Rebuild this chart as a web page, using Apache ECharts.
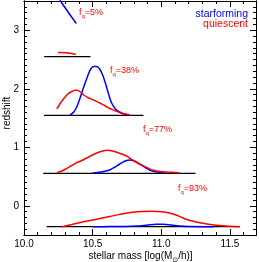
<!DOCTYPE html>
<html><head><meta charset="utf-8">
<script src="https://cdn.jsdelivr.net/npm/echarts@6/dist/echarts.min.js"></script>
<style>html,body{margin:0;padding:0;background:#fff}#c{width:259px;height:262px}</style>
</head><body><div id="c"></div>
<script>
// ---- data ----
const xTickLabels = [10.0, 10.5, 11.0, 11.5];
const yTickLabels = [0, 1, 2, 3];
const fqText = ['5%', '38%', '77%', '93%'];

// baselines of the four redshift bins
const baseY  = [2.548, 1.546, 0.555, -0.358];
const baseX0 = [10.147, 10.145, 10.14, 10.165];
const baseX1 = [10.484, 10.87, 11.25, 11.574];

// bin 1
const sf1X = [10.245, 10.276, 10.326, 10.381];
const sf1Y = [3.585, 3.466, 3.295, 3.115];
const q1X  = [10.247, 10.31, 10.377];
const q1Y  = [2.62, 2.615, 2.585];
// bin 2
const sf2X = [10.334, 10.363, 10.384, 10.406, 10.435, 10.464, 10.486, 10.508, 10.529, 10.551, 10.573, 10.595, 10.616, 10.638, 10.667, 10.696, 10.732, 10.769];
const sf2Y = [1.551, 1.603, 1.688, 1.825, 2.030, 2.218, 2.338, 2.380, 2.380, 2.338, 2.235, 2.081, 1.910, 1.756, 1.654, 1.603, 1.568, 1.551];
const q2X  = [10.239, 10.261, 10.290, 10.319, 10.348, 10.381, 10.406, 10.435, 10.471, 10.515, 10.551, 10.587, 10.624, 10.660, 10.696, 10.732, 10.769];
const q2Y  = [1.654, 1.739, 1.833, 1.910, 1.953, 1.979, 1.953, 1.893, 1.842, 1.799, 1.756, 1.714, 1.662, 1.628, 1.594, 1.568, 1.556];
// bin 3
const sf3X = [10.500, 10.573, 10.624, 10.674, 10.718, 10.747, 10.769, 10.805, 10.841, 10.892, 10.935, 10.986, 11.037];
const sf3Y = [0.560, 0.582, 0.611, 0.679, 0.743, 0.774, 0.782, 0.765, 0.714, 0.640, 0.594, 0.572, 0.565];
const q3X  = [10.239, 10.276, 10.312, 10.348, 10.384, 10.421, 10.464, 10.522, 10.573, 10.609, 10.645, 10.696, 10.747, 10.790, 10.841, 10.892, 10.935, 11.008, 11.080, 11.131];
const q3Y  = [0.560, 0.594, 0.640, 0.688, 0.736, 0.774, 0.825, 0.893, 0.936, 0.948, 0.936, 0.897, 0.850, 0.782, 0.714, 0.657, 0.611, 0.582, 0.572, 0.565];
// bin 4
const sf4X = [10.500, 10.624, 10.732, 10.819, 10.892, 10.964, 11.015, 11.073, 11.131, 11.204, 11.313, 11.385];
const sf4Y = [-0.358, -0.356, -0.353, -0.346, -0.332, -0.317, -0.315, -0.329, -0.346, -0.356, -0.358, -0.358];
const q4X  = [10.276, 10.348, 10.442, 10.537, 10.624, 10.711, 10.790, 10.863, 10.935, 11.001, 11.059, 11.117, 11.175, 11.240, 11.313, 11.385, 11.472, 11.566];
const q4Y  = [-0.358, -0.321, -0.269, -0.226, -0.184, -0.141, -0.112, -0.098, -0.095, -0.102, -0.124, -0.167, -0.226, -0.269, -0.303, -0.329, -0.346, -0.358];

// ---- chart ----
const FONT = 'Liberation Sans';
const RED = '#ff0000', BLUE = '#0000ff';
const pairs = (xs, ys) => xs.map((v, i) => [v, ys[i]]);
const near = (arr, v) => arr.some(t => Math.abs(t - v) < 1e-6);

function axis(dim, pos, opts) {
  return Object.assign({
    type: 'value', position: pos, splitLine: {show: false},
    axisLine: {show: true, onZero: false, lineStyle: {color: '#000', width: 1}},
    axisLabel: {show: false}
  }, opts);
}
const tick = (len) => ({show: true, inside: true, length: len, lineStyle: {color: '#000', width: 1}});

const xBase = {min: 10, max: 11.69};
const yBase = {min: -0.5, max: 3.5};

const xAxes = [
  axis('x', 'bottom', Object.assign({}, xBase, {interval: 0.5, axisTick: tick(6),
    axisLabel: {show: true, margin: 4, fontSize: 10, fontFamily: FONT, color: '#000',
      formatter: v => near(xTickLabels, v) ? v.toFixed(1) : ''}})),
  axis('x', 'bottom', Object.assign({}, xBase, {interval: 0.1, axisTick: tick(3)})),
  axis('x', 'top', Object.assign({}, xBase, {interval: 0.5, axisTick: tick(6)})),
  axis('x', 'top', Object.assign({}, xBase, {interval: 0.1, axisTick: tick(3)}))
];
const yAxes = [
  axis('y', 'left', Object.assign({}, yBase, {splitNumber: 4, axisTick: tick(6),
    axisLabel: {show: true, margin: 5, fontSize: 10, fontFamily: FONT, color: '#000',
      formatter: v => near(yTickLabels, v) ? String(Math.round(v)) : ''}})),
  axis('y', 'left', Object.assign({}, yBase, {interval: 0.1, axisTick: tick(3)})),
  axis('y', 'right', Object.assign({}, yBase, {splitNumber: 4, axisTick: tick(6)})),
  axis('y', 'right', Object.assign({}, yBase, {interval: 0.1, axisTick: tick(3)}))
];

const series = [];
baseY.forEach((y, i) => series.push({type: 'line', data: [[baseX0[i], y], [baseX1[i], y]],
  symbol: 'none', lineStyle: {color: '#000', width: 1.2}, silent: true, z: 2}));
const curves = [[sf1X, sf1Y, BLUE], [sf2X, sf2Y, BLUE], [sf3X, sf3Y, BLUE], [sf4X, sf4Y, BLUE],
                [q1X, q1Y, RED], [q2X, q2Y, RED], [q3X, q3Y, RED], [q4X, q4Y, RED]];
curves.forEach(c => series.push({type: 'line', data: pairs(c[0], c[1]), symbol: 'none', smooth: 0.3,
  clip: true, lineStyle: {color: c[2], width: 1.5}, z: 3}));

const fqPos = [[79, 13], [110, 71], [143, 130], [178, 189]];
const fqRich = {
  m: {fontSize: 9, lineHeight: 10, verticalAlign: 'top', fill: RED, fontFamily: FONT},
  s: {fontSize: 6, lineHeight: 6, padding: [5, 0, 0, 0], verticalAlign: 'top', fill: RED, fontFamily: FONT}
};
const graphics = fqText.map((t, i) => ({type: 'text', x: fqPos[i][0], y: fqPos[i][1],
  style: {text: '{m|f}{s|q}{m|=' + t + '}', rich: fqRich, textAlign: 'left', textVerticalAlign: 'middle'}}));
graphics.push(
  {type: 'text', x: 248, y: 14, style: {text: 'starforming', fill: BLUE, font: '10.5px ' + FONT, textAlign: 'right', textVerticalAlign: 'middle'}},
  {type: 'text', x: 248, y: 24, style: {text: 'quiescent', fill: RED, font: '10.5px ' + FONT, textAlign: 'right', textVerticalAlign: 'middle'}},
  {type: 'text', x: 7, y: 113, rotation: Math.PI / 2,
    style: {text: 'redshift', fill: '#000', font: '10px ' + FONT, textAlign: 'center', textVerticalAlign: 'middle'}},
  {type: 'text', x: 140.5, y: 257,
    style: {text: '{a|stellar mass [log(M}{s|⊙}{a|/h)]}', textAlign: 'center', textVerticalAlign: 'middle',
      rich: {a: {fontSize: 10, lineHeight: 11, verticalAlign: 'top', fill: '#000', fontFamily: FONT},
             s: {fontSize: 7, lineHeight: 7, padding: [5, 0, 0, 0], verticalAlign: 'top', fill: '#000', fontFamily: 'DejaVu Sans'}}}}
);

const chart = echarts.init(document.getElementById('c'), null, {renderer: 'canvas'});
chart.setOption({
  animation: false,
  backgroundColor: '#fff',
  grid: {left: 24, right: 2, top: 1, bottom: 27, containLabel: false},
  xAxis: xAxes, yAxis: yAxes,
  series: series,
  graphic: graphics
});
</script></body></html>
